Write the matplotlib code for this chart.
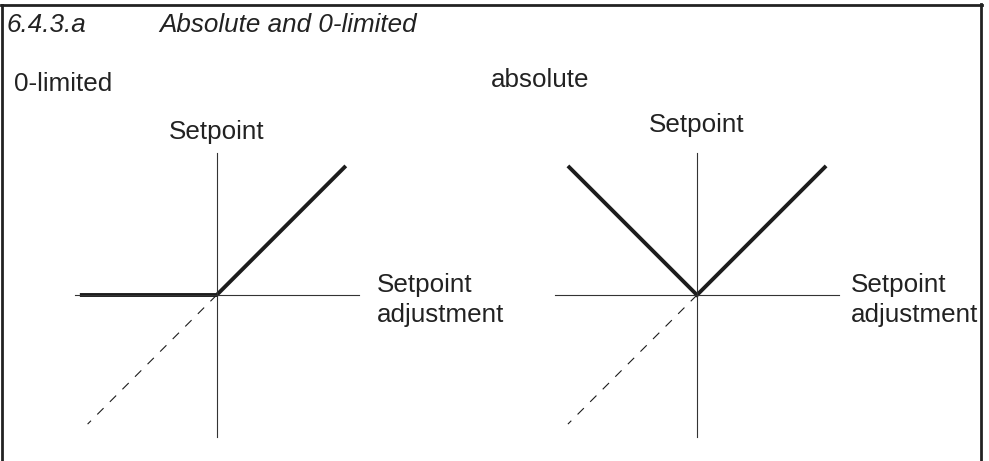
import matplotlib
matplotlib.use("Agg")
import matplotlib.pyplot as plt
from matplotlib.lines import Line2D

plt.rcParams['font.family'] = ['Liberation Sans', 'DejaVu Sans']

# ---- data ----
title_num = "6.4.3.a"
title_txt = "Absolute and 0-limited"
panel_titles = ["0-limited", "absolute"]
y_label = "Setpoint"
x_label = "Setpoint\nadjustment"

# 0-limited characteristic
lim_x = [-1.06, 0.0, 1.0]
lim_y = [0.0, 0.0, 1.0]
# absolute characteristic
abs_x = [-1.0, 0.0, 1.0]
abs_y = [1.0, 0.0, 1.0]
# dashed reference (identity, negative part)
ref_x = [0.0, -1.0]
ref_y = [0.0, -1.0]

W, H = 989, 461
fig = plt.figure(figsize=(W / 100, H / 100), dpi=100)

def fx(px):
    return px / W

def fy(py):
    return 1 - py / H

ink = "#1c1c1c"
txt = "#222222"
fs = 18.7
ax_size = 284
lim = 1.1

def make_ax(cx, cy, xs, ys, ylab_y, xlab_x):
    ax = fig.add_axes([fx(cx - ax_size / 2), fy(cy + ax_size / 2),
                       ax_size / W, ax_size / H])
    ax.set_xlim(-lim, lim)
    ax.set_ylim(-lim, lim)
    for s in ("top", "right"):
        ax.spines[s].set_visible(False)
    for s in ("left", "bottom"):
        ax.spines[s].set_position(("data", 0))
        ax.spines[s].set_color("#333333")
        ax.spines[s].set_linewidth(0.8)
    ax.set_xticks([])
    ax.set_yticks([])
    ax.patch.set_alpha(0)
    ax.plot(ref_x, ref_y, color=ink, lw=0.8, linestyle=(0, (8, 8)),
            solid_capstyle="butt", dash_capstyle="butt")
    ax.plot(xs, ys, color=ink, lw=2.8, solid_joinstyle="miter",
            solid_capstyle="butt")
    ax.text(0, ylab_y, y_label, ha="center", va="baseline", fontsize=fs,
            color=txt, clip_on=False)
    lines = x_label.split("\n")
    ax.text(xlab_x, 0.02, lines[0], ha="left", va="baseline",
            fontsize=fs, color=txt, clip_on=False)
    ax.text(xlab_x, 0.02 - 30 / 129, lines[1], ha="left",
            va="baseline", fontsize=fs, color=txt, clip_on=False)
    return ax

make_ax(216.7, 295, lim_x, lim_y, 1.21, 1.24)
make_ax(697, 295, abs_x, abs_y, 1.26, 1.19)

# header texts
fig.text(fx(7), fy(31.5), title_num, fontsize=fs, style="italic",
         color=txt, va="baseline", ha="left")
fig.text(fx(159), fy(31.5), title_txt, fontsize=fs, style="italic",
         color=txt, va="baseline", ha="left")
fig.text(fx(14), fy(90.5), panel_titles[0], fontsize=fs, color=txt,
         va="baseline", ha="left")
fig.text(fx(491), fy(87), panel_titles[1], fontsize=fs, color=txt,
         va="baseline", ha="left")

# frame (open at bottom)
bc = "#222222"
fig.add_artist(Line2D([fx(2), fx(2)], [fy(5), 0], transform=fig.transFigure,
                      color=bc, lw=2.0))
fig.add_artist(Line2D([fx(1), fx(982)], [fy(5), fy(5)], transform=fig.transFigure,
                      color=bc, lw=2.0))
fig.add_artist(Line2D([fx(981), fx(981)], [fy(4), 0], transform=fig.transFigure,
                      color=bc, lw=2.0))

fig.savefig("out.png", dpi=100, facecolor="white")
